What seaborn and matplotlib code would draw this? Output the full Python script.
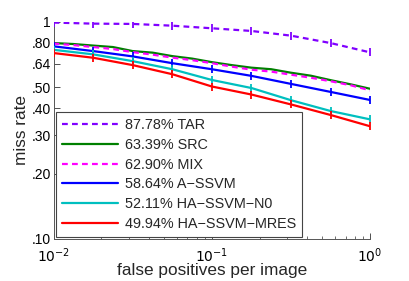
import numpy as np
import pandas as pd
import matplotlib
matplotlib.use('Agg')
import matplotlib.pyplot as plt
import seaborn as sns

# fppi sample points (every quarter decade) and finer grid for the jagged curves
fppi = [0.0100, 0.0178, 0.0316, 0.0562, 0.1000, 0.1778, 0.3162, 0.5623, 1.0000]
fppi_fine = [0.0100, 0.0133, 0.0178, 0.0237, 0.0316, 0.0422, 0.0562, 0.0750, 0.1000,
             0.1334, 0.1778, 0.2371, 0.3162, 0.4217, 0.5623, 0.7499, 1.0000]

tar = [0.990, 0.979, 0.976, 0.958, 0.932, 0.906, 0.862, 0.797, 0.722]
src = [0.797, 0.789, 0.776, 0.764, 0.732, 0.720, 0.694, 0.676, 0.651,
       0.631, 0.614, 0.604, 0.582, 0.564, 0.538, 0.515, 0.491]
mix = [0.793, 0.780, 0.764, 0.748, 0.724, 0.705, 0.683, 0.665, 0.644,
       0.621, 0.601, 0.589, 0.570, 0.552, 0.532, 0.510, 0.483]
a_ssvm = [0.770, 0.732, 0.692, 0.644, 0.604, 0.563, 0.517, 0.475, 0.436]
ha_n0 = [0.742, 0.707, 0.658, 0.604, 0.539, 0.495, 0.435, 0.388, 0.355]
ha_mres = [0.717, 0.682, 0.631, 0.573, 0.503, 0.462, 0.416, 0.372, 0.330]

labels = ['87.78% TAR', '63.39% SRC', '62.90% MIX', '58.64% A\u2212SSVM',
          '52.11% HA\u2212SSVM\u2212N0', '49.94% HA\u2212SSVM\u2212MRES']
colors = ['#8000ff', '#008000', '#ff00ff', '#0000ff', '#00bfbf', '#ff0000']
dash = (0, (2.6, 1.9))
styles = [dash, '-', dash, '-', '-', '-']

series = [(fppi, tar, True), (fppi_fine, src, False), (fppi_fine, mix, False),
          (fppi, a_ssvm, True), (fppi, ha_n0, True), (fppi, ha_mres, True)]

sns.set_style('white')
plt.rcParams['font.family'] = ['Liberation Sans', 'DejaVu Sans']

fig = plt.figure(figsize=(4.09, 2.81), dpi=100)
ax = fig.add_axes([0.131, 0.1495, 0.774, 0.7735])

for (xs, ys, marks), lab, col, ls in zip(series, labels, colors, styles):
    df = pd.DataFrame({'fppi': xs, 'miss': ys})
    sns.lineplot(data=df, x='fppi', y='miss', ax=ax, color=col, linestyle=ls,
                 linewidth=1.6, label=lab)
    if marks:
        sns.scatterplot(data=df, x='fppi', y='miss', ax=ax, color=col,
                        marker='|', s=32, linewidth=1.3, legend=False, zorder=3)

ax.set_xscale('log')
ax.set_yscale('log')
ax.set_xlim(0.01, 1)
ax.set_ylim(0.1, 1)

yt = [0.1, 0.2, 0.3, 0.4, 0.5, 0.64, 0.8, 1.0]
ax.set_yticks(yt)
ax.set_yticklabels(['.10', '.20', '.30', '.40', '.50', '.64', '.80', '1'])
ax.yaxis.set_minor_locator(matplotlib.ticker.NullLocator())
ax.set_xticks([0.01, 0.1, 1])
ax.set_xticklabels(['$10^{-2}$', '$10^{-1}$', '$10^{0}$'])

ax.tick_params(axis='both', which='both', direction='in', labelsize=10,
               colors='#333333', labelcolor='black')
ax.tick_params(axis='both', which='major', length=4, width=0.6)
ax.tick_params(axis='x', which='minor', length=2, width=0.5, bottom=True)
ax.tick_params(axis='x', which='major', bottom=True, pad=5)
ax.tick_params(axis='y', which='major', left=True, pad=2)

for s in ['top', 'right']:
    ax.spines[s].set_visible(False)
for s in ['left', 'bottom']:
    ax.spines[s].set_color('#555555')
    ax.spines[s].set_linewidth(0.7)

ax.set_xlabel('false positives per image', fontsize=12.4, labelpad=-1)
ax.set_ylabel('miss rate', fontsize=12.4, labelpad=2)

leg = ax.legend(loc='lower left', fontsize=10.4, frameon=True, fancybox=False,
                framealpha=1, edgecolor='#444444', handlelength=3.9,
                labelspacing=0.4, borderpad=0.4, borderaxespad=0.15,
                handletextpad=0.5)
leg.get_frame().set_linewidth(0.8)

fig.savefig('out.png', dpi=100)
